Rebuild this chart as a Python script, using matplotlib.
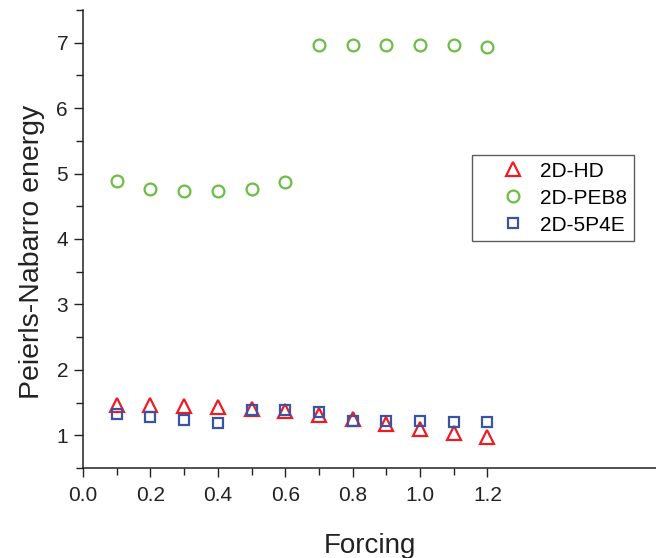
import matplotlib
matplotlib.use("Agg")
import matplotlib.pyplot as plt

forcing = [0.1, 0.2, 0.3, 0.4, 0.5, 0.6, 0.7, 0.8, 0.9, 1.0, 1.1, 1.2]
hd = [1.47, 1.47, 1.45, 1.43, 1.40, 1.37, 1.31, 1.245, 1.165, 1.10, 1.035, 0.975]
peb8 = [4.88, 4.76, 4.74, 4.74, 4.77, 4.87, 6.96, 6.96, 6.96, 6.96, 6.96, 6.93]
p4e = [1.32, 1.285, 1.235, 1.185, 1.39, 1.385, 1.35, 1.22, 1.215, 1.215, 1.21, 1.205]

x_major = [0.0, 0.2, 0.4, 0.6, 0.8, 1.0, 1.2]
x_major_labels = ['0.0', '0.2', '0.4', '0.6', '0.8', '1.0', '1.2']
x_minor = [0.1, 0.3, 0.5, 0.7, 0.9, 1.1]
y_major = [1, 2, 3, 4, 5, 6, 7]
y_major_labels = ['1', '2', '3', '4', '5', '6', '7']
y_minor = [0.5, 1.5, 2.5, 3.5, 4.5, 5.5, 6.5, 7.5]

plt.rcParams['font.family'] = ['Liberation Sans', 'DejaVu Sans']

W, H = 656, 558
fig = plt.figure(figsize=(W / 100, H / 100), dpi=100)
ax = fig.add_axes([83 / W, 90 / H, (W - 83) / W, (468 - 10) / H])

red = '#ED1C24'
green = '#6ABD45'
blue = '#3A54A4'
ink = '#222222'

ax.plot(forcing, hd, linestyle='none', marker='^', markersize=9.5, markerfacecolor='none',
        markeredgecolor=red, markeredgewidth=1.6, label='2D-HD')
ax.plot(forcing, peb8, linestyle='none', marker='o', markersize=8.5, markerfacecolor='none',
        markeredgecolor=green, markeredgewidth=1.6, label='2D-PEB8')
ax.plot(forcing, p4e, linestyle='none', marker='s', markersize=6.8, markerfacecolor='none',
        markeredgecolor=blue, markeredgewidth=1.6, label='2D-5P4E')

ax.set_xlim(0, 1.7)
ax.set_ylim(0.5, 7.5)
ax.set_xticks(x_major)
ax.set_xticklabels(x_major_labels)
ax.set_xticks(x_minor, minor=True)
ax.set_yticks(y_major)
ax.set_yticklabels(y_major_labels)
ax.set_yticks(y_minor, minor=True)

for s in ['top', 'right']:
    ax.spines[s].set_visible(False)
for s in ['left', 'bottom']:
    ax.spines[s].set_linewidth(1.1)
    ax.spines[s].set_color(ink)

ax.tick_params(which='major', direction='out', length=6.3, width=1.0, labelsize=15,
               colors=ink)
ax.tick_params(which='minor', direction='out', length=5, width=1.0, colors=ink)
ax.tick_params(axis='x', which='major', pad=7)
ax.tick_params(axis='y', which='major', pad=4.5)

ax.set_xlabel('Forcing', fontsize=20, color=ink, labelpad=20)
ax.set_ylabel('Peierls-Nabarro energy', fontsize=20.5, color=ink)
ax.yaxis.set_label_coords(-0.066, 0.472)

leg = ax.legend(loc='upper left', bbox_to_anchor=(0.6789, 0.6834), borderaxespad=0,
                fontsize=15, frameon=True, fancybox=False, edgecolor='#333333',
                borderpad=0.32, labelspacing=0.38, handlelength=3.3, handletextpad=-0.37)
leg.get_frame().set_linewidth(1.0)

fig.savefig('out.png', dpi=100)
